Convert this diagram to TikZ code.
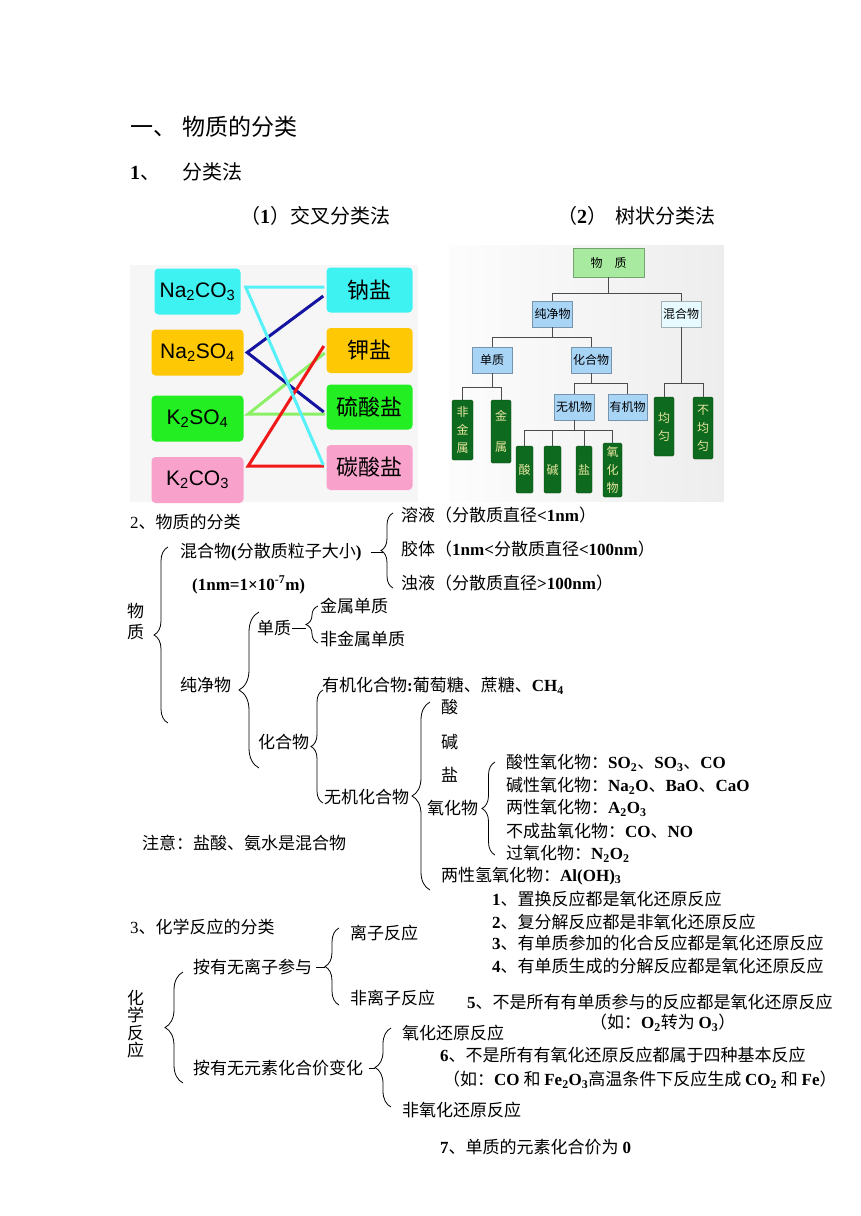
\documentclass[tikz,border=0pt]{standalone}
\usepackage{fontspec}
\setmainfont{Noto Sans CJK SC}
\newfontfamily\tnr{Liberation Serif}
\newfontfamily\arl{Liberation Sans}
\usetikzlibrary{decorations.pathreplacing}

\newcommand{\en}[1]{{\tnr\bfseries #1}}
\newcommand{\fsz}[1]{\fontsize{#1}{#1}\selectfont}

\definecolor{cyfill}{HTML}{3FF2F2}
\definecolor{ogfill}{HTML}{FFC805}
\definecolor{gnfill}{HTML}{22EE22}
\definecolor{pkfill}{HTML}{F7A1CB}
\definecolor{cyline}{HTML}{55F0F8}
\definecolor{blline}{HTML}{1414A0}
\definecolor{gnline}{HTML}{8CF066}
\definecolor{rdline}{HTML}{F01818}
\definecolor{lgreen}{HTML}{A8EBA0}
\definecolor{lblue}{HTML}{A8D4F6}
\definecolor{lcyan}{HTML}{E6FAFF}
\definecolor{dgreen}{HTML}{0E6A1E}
\definecolor{pale}{HTML}{E8E6A0}

\begin{document}
\begin{tikzpicture}[x=1pt, y=-1pt,
	txt/.style={anchor=west, inner sep=0pt, font=\fsz{17}},
	brc/.style={decorate, decoration={brace, amplitude=#1pt}, line width=0.8pt},
	brl/.style={line width=0.8pt},
	chem/.style={rounded corners=4pt, minimum width=92pt, minimum height=46pt, inner sep=0pt, font=\arl\fsz{21}},
	salt/.style={rounded corners=4pt, minimum width=86pt, minimum height=45pt, inner sep=0pt, font=\fsz{22}},
	tbox/.style={draw=#1!70!black, fill=#1, line width=0.5pt, inner sep=0pt, minimum width=40pt, minimum height=26pt, font=\fsz{12}},
	gbox/.style={draw=dgreen!70!black, fill=dgreen, text=pale, rounded corners=1.5pt, inner sep=0pt, minimum width=20pt, align=center, font=\fontsize{12}{18}\selectfont},
	tln/.style={draw=gray!60!black, line width=0.6pt},
	cline/.style={line width=3pt, draw=#1}]
	\useasboundingbox (0,0) rectangle (860,1216);

	\node[anchor=west, inner sep=0pt, font=\fsz{23}] (h1) at (130,127) {一、\hspace{6pt}物质的分类};
	\node[anchor=west, inner sep=0pt, font=\fsz{20}] (h2) at (130,172) {\en{1}、\hspace{22pt}分类法};
	\node[anchor=west, inner sep=0pt, font=\fsz{20}] (h3) at (240,216) {（\en{1}）交叉分类法};
	\node[anchor=west, inner sep=0pt, font=\fsz{20}] (h4) at (557,216) {（\en{2}）\hspace{8pt}树状分类法};

	% (1) cross classification
	\fill[gray!7] (130,265) rectangle (418,502);
	\node[chem, fill=cyfill, minimum width=86pt] (nco) at (197.5,291.5) {Na\textsubscript{2}CO\textsubscript{3}};
	\node[chem, fill=ogfill] (nso) at (197.5,352.5) {Na\textsubscript{2}SO\textsubscript{4}};
	\node[chem, fill=gnfill] (kso) at (197.5,418.5) {K\textsubscript{2}SO\textsubscript{4}};
	\node[chem, fill=pkfill] (kco) at (197.5,480) {K\textsubscript{2}CO\textsubscript{3}};
	\node[salt, fill=cyfill] (na) at (369.5,290) {钠盐};
	\node[salt, fill=ogfill] (k) at (369.5,350.5) {钾盐};
	\node[salt, fill=gnfill] (ls) at (369.5,407) {硫酸盐};
	\node[salt, fill=pkfill] (ts) at (369.5,467.5) {碳酸盐};

	\draw[cline=gnline] ([xshift=-1.5pt,yshift=-2.5pt]k.west) -- ([xshift=4.5pt,yshift=4.5pt]kso.east) -- ([xshift=-1.5pt,yshift=-7pt]ls.west);
	\draw[cline=blline] ([xshift=-3pt,yshift=-6pt]na.west) -- ([xshift=3.5pt]nso.east) -- ([xshift=-2.5pt,yshift=-5pt]ls.west);
	\draw[cline=rdline] ([xshift=-2.5pt,yshift=4.5pt]k.west) -- ([xshift=4.5pt,yshift=14pt]kco.east) -- ([xshift=-2.5pt,yshift=1.5pt]ts.west);
	\draw[cline=cyline] ([xshift=-2pt,yshift=3pt]na.west) -- ([xshift=5pt,yshift=4.5pt]nco.east) -- ([xshift=-3pt,yshift=2.5pt]ts.west);

	% (2) tree classification
	\shade[left color=gray!2, right color=gray!14] (449,245) rectangle (724,501);
	\node[tbox=lgreen, minimum width=71pt, minimum height=29pt] (twz) at (608.5,262.5) {物\hspace{12pt}质};
	\node[tbox=lblue] (tcj) at (552.5,314) {纯净物};
	\node[tbox=lcyan] (thh) at (681,314) {混合物};
	\node[tbox=lblue] (tdz) at (492,360) {单质};
	\node[tbox=lblue] (thc) at (591,360) {化合物};
	\node[tbox=lblue] (twj) at (574,407) {无机物};
	\node[tbox=lblue, minimum width=39pt] (tyj) at (627.5,407) {有机物};
	\node[gbox, minimum width=21pt, minimum height=60pt] (tfj) at (462.5,430) {非\\金\\属};
	\node[gbox, minimum height=63pt] (tjs) at (501,431.5) {金\\[13pt]属};
	\node[gbox, minimum width=17pt, minimum height=47pt] (tsu) at (524.5,469.5) {酸};
	\node[gbox, minimum width=17pt, minimum height=47pt] (tji) at (552.5,469.5) {碱};
	\node[gbox, minimum width=16pt, minimum height=47pt] (tya) at (584,469.5) {盐};
	\node[gbox, minimum width=19pt, minimum height=54pt] (tyh) at (612.5,470) {氧\\化\\物};
	\node[gbox, minimum height=59pt] (tjy) at (664,426.5) {均\\匀};
	\node[gbox, minimum height=62pt] (tbj) at (703,428) {不\\均\\匀};

	\draw[tln] (twz.south) -- ++(0,16) -| (tcj.north) (twz.south) -- ++(0,16) -| (thh.north);
	\draw[tln] (tcj.south) -- ++(0,10) -| (tdz.north) (tcj.south) -- ++(0,10) -| (thc.north);
	\draw[tln] (tdz.south) -- ++(0,14) -| (tfj.north) (tdz.south) -- ++(0,14) -| (tjs.north);
	\draw[tln] (thc.south) -- ++(0,10) -| (twj.north) (thc.south) -- ++(0,10) -| (tyj.north);
	\draw[tln] (twj.south) -- ++(0,10) -| (tsu.north) (twj.south) -- ++(0,10) -| (tji.north);
	\draw[tln] (twj.south) -- ++(0,10) -| (tya.north) (twj.south) -- ++(0,10) -| (tyh.north);
	\draw[tln] (thh.south) -- ++(0,56) -| (tjy.north) (thh.south) -- ++(0,56) -| (tbj.north);

	% 2. classification of matter
	\node[txt] (s2) at (130,522) {{\tnr 2}、物质的分类};
	\node[anchor=center, inner sep=0pt, align=center, font=\fontsize{17}{21}\selectfont] (wz) at (135.5,622) {物\\质};
	\node[txt] (mix) at (180,552) {混合物\en{(}分散质粒子大小\en{)}};
	\node[txt] (nm) at (192,585) {\en{(1nm=1×10\textsuperscript{-7}m)}};
	\node[txt] (ry) at (401,515) {溶液（分散质直径\en{<1nm}）};
	\node[txt] (jt) at (401,549) {胶体（\en{1nm<}分散质直径\en{<100nm}）};
	\node[txt] (zy) at (401,583) {浊液（分散质直径\en{>100nm}）};
	\node[txt] (cjw) at (180,685) {纯净物};
	\node[txt] (dz) at (257,628) {单质};
	\node[txt] (jsdz) at (320,606) {金属单质};
	\node[txt] (fjsdz) at (320,639) {非金属单质};
	\node[txt] (hhw) at (258,742) {化合物};
	\node[txt] (yjhh) at (322,686) {有机化合物\en{:}葡萄糖、蔗糖、\en{CH\textsubscript{4}}};
	\node[txt] (wjhh) at (324,797) {无机化合物};
	\node[txt] (suan) at (441,707) {酸};
	\node[txt] (jian) at (441,742) {碱};
	\node[txt] (yan) at (441,775) {盐};
	\node[txt] (yhw) at (427,808) {氧化物};
	\node[txt] (o1) at (506,763) {酸性氧化物：\en{SO\textsubscript{2}}、\en{SO\textsubscript{3}}、\en{CO}};
	\node[txt] (o2) at (506,786) {碱性氧化物：\en{Na\textsubscript{2}O}、\en{BaO}、\en{CaO}};
	\node[txt] (o3) at (506,808) {两性氧化物：\en{A\textsubscript{2}O\textsubscript{3}}};
	\node[txt] (o4) at (506,831) {不成盐氧化物：\en{CO}、\en{NO}};
	\node[txt] (o5) at (506,854) {过氧化物：\en{N\textsubscript{2}O\textsubscript{2}}};
	\node[txt] (lxq) at (441,876) {两性氢氧化物：\en{Al(OH)\textsubscript{3}}};
	\node[txt] (zyi) at (142,843) {注意：盐酸、氨水是混合物};

	\coordinate (b0a) at (168,723);
	\coordinate (b0b) at (168,547);
	\coordinate (b3a) at (259,768);
	\coordinate (b3b) at (259,612);
	\coordinate (b4a) at (323,803);
	\coordinate (b4b) at (323,690);
	\coordinate (b5a) at (430,890);
	\coordinate (b5b) at (430,702);
	\draw[brc=14] (b0a) -- (b0b);
	\draw[brc=12] ([xshift=-8pt,yshift=-5pt]zy.west) -- ([xshift=-8pt,yshift=2pt]ry.west);
	\draw[brl] ([xshift=9pt]mix.east) -- ([xshift=21pt]mix.east);
	\draw[brc=12] ([xshift=-2pt,yshift=-4pt]fjsdz.west) -- ([xshift=-2pt]jsdz.west);
	\draw[brl] ([xshift=1pt]dz.east) -- ([xshift=15pt]dz.east);
	\draw[brc=20] (b3a) -- (b3b);
	\draw[brc=12] (b4a) -- (b4b);
	\draw[brc=18] (b5a) -- (b5b);
	\draw[brc=13] ([xshift=-11pt,yshift=-1pt]o5.west) -- ([xshift=-11pt,yshift=1pt]o1.west);

	% 3. classification of reactions
	\node[txt] (s3) at (130,927) {{\tnr 3}、化学反应的分类};
	\node[anchor=center, inner sep=0pt, align=center, font=\fontsize{17}{17.5}\selectfont] (hxfy) at (135.5,1024) {化\\学\\反\\应};
	\node[txt] (ylz) at (193,967) {按有无离子参与};
	\node[txt] (lzfy) at (350,933) {离子反应};
	\node[txt] (flzfy) at (350,998) {非离子反应};
	\node[txt] (ysbh) at (193,1068) {按有无元素化合价变化};
	\node[txt] (yhhy) at (402,1033) {氧化还原反应};
	\node[txt] (fyhhy) at (402,1110) {非氧化还原反应};

	\coordinate (b7a) at (183,1083);
	\coordinate (b7b) at (183,972);
	\draw[brc=18] (b7a) -- (b7b);
	\draw[brc=14] ([xshift=-11pt,yshift=-7pt]flzfy.west) -- ([xshift=-11pt,yshift=5pt]lzfy.west);
	\draw[brl] ([xshift=4pt]ylz.east) -- ([xshift=13pt]ylz.east);
	\draw[brc=16] ([xshift=-11pt,yshift=3pt]fyhhy.west) -- ([xshift=-11pt,yshift=5pt]yhhy.west);
	\draw[brl] ([xshift=6pt]ysbh.east) -- ([xshift=12pt]ysbh.east);

	\node[txt] (n1) at (492,899) {\en{1}、置换反应都是氧化还原反应};
	\node[txt] (n2) at (492,922) {\en{2}、复分解反应都是非氧化还原反应};
	\node[txt] (n3) at (492,943) {\en{3}、有单质参加的化合反应都是氧化还原反应};
	\node[txt] (n4) at (492,966) {\en{4}、有单质生成的分解反应都是氧化还原反应};
	\node[txt] (n5) at (467,1002) {\en{5}、不是所有有单质参与的反应都是氧化还原反应};
	\node[txt] (n5e) at (590,1023) {（如：\en{O\textsubscript{2}}转为 \en{O\textsubscript{3}}）};
	\node[txt] (n6) at (440,1055) {\en{6}、不是所有有氧化还原反应都属于四种基本反应};
	\node[txt] (n6e) at (443,1080) {（如：\en{CO} 和 \en{Fe\textsubscript{2}O\textsubscript{3}}高温条件下反应生成 \en{CO\textsubscript{2}} 和 \en{Fe}）};
	\node[txt] (n7) at (440,1147) {\en{7}、单质的元素化合价为 \en{0}};
\end{tikzpicture}
\end{document}
